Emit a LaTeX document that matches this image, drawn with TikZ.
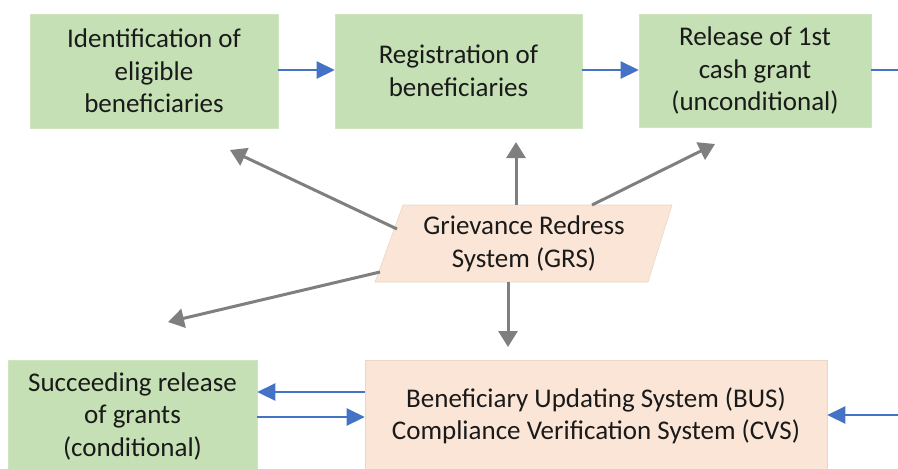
\documentclass[tikz,border=0pt]{standalone}
\usepackage{fontspec}
\setmainfont{Carlito}
\usetikzlibrary{arrows.meta}
\definecolor{boxgreen}{HTML}{C5E0B4}
\definecolor{boxpeach}{HTML}{FBE5D6}
\definecolor{flowblue}{HTML}{4472C4}
\definecolor{linkgray}{HTML}{7F7F7F}
\definecolor{txt}{HTML}{1A1A1A}
\tikzset{
  stagebox/.style={fill=boxgreen, draw=boxgreen!85!white, line width=0.6pt, text=txt, align=center,
    font=\fontsize{27}{32.5}\selectfont, inner sep=0pt},
  sysbox/.style={fill=boxpeach, draw=boxpeach!85!gray, line width=0.6pt, text=txt, align=center,
    font=\fontsize{27}{32.5}\selectfont, inner sep=0pt},
  flow/.style={draw=flowblue, line width=2.6pt, -{Triangle[length=18pt,width=17pt]}},
  flowline/.style={draw=flowblue, line width=2.6pt},
  link/.style={draw=linkgray, line width=3pt, -{Triangle[length=16pt,width=19pt]}},
}
\begin{document}
\begin{tikzpicture}[x=1pt,y=-1pt]
\useasboundingbox (0,0) rectangle (898,469);
\clip (0,0) rectangle (898,469);
% top row
\node[stagebox, minimum width=248pt, minimum height=114pt] (b1) at (154,71)
  {Identification of\\eligible\\beneficiaries};
\node[stagebox, minimum width=247pt, minimum height=114pt] (b2) at (458.5,71)
  {Registration of\\beneficiaries};
\node[stagebox, minimum width=232pt, minimum height=113pt] (b3) at (755,70.5)
  {Release of 1st\\cash grant\\(unconditional)};
% bottom row
\node[stagebox, minimum width=249pt, minimum height=112pt] (b4) at (132.5,416)
  {Succeeding release\\of grants\\(conditional)};
\node[sysbox, minimum width=462pt, minimum height=112pt] (bus) at (596,416)
  {Beneficiary Updating System (BUS)\\Compliance Verification System (CVS)};
% grievance parallelogram
\fill[boxpeach] (403,205) -- (672,205) -- (648,282) -- (375,282) -- cycle;
\draw[boxpeach!85!gray, line width=0.6pt] (403,205) -- (672,205) -- (648,282) -- (375,282) -- cycle;
\node[text=txt, align=center, font=\fontsize{27}{32.5}\selectfont, inner sep=0pt] (grs) at (524,244)
  {Grievance Redress\\System (GRS)};
% named coordinates for connector ends
\coordinate (gA) at (397,229);
\coordinate (tA) at (230,150);
\coordinate (gB) at (380,272);
\coordinate (tB) at (168,322);
\coordinate (gC) at (516,205);
\coordinate (tC) at (516,142);
\coordinate (gD) at (592,205);
\coordinate (tD) at (715,144);
\coordinate (gE) at (508,282);
\coordinate (tE) at (508,347);
\coordinate (outR) at (905,70);
\coordinate (inR) at (905,415);
% blue flow
\draw[flow] (b1.east |- 0,70) -- (b2.west |- 0,70);
\draw[flow] (b2.east |- 0,70) -- (b3.west |- 0,70);
\draw[flowline] (b3.east |- outR) -- (outR);
\draw[flow] (inR) -- (bus.east |- inR);
\draw[flow] (bus.west |- 0,392) -- (b4.east |- 0,392);
\draw[flow] (b4.east |- 0,417) -- (bus.west |- 0,417);
% gray links
\draw[link] (gA) -- (tA);
\draw[link] (gB) -- (tB);
\draw[link] (gC) -- (tC);
\draw[link] (gD) -- (tD);
\draw[link] (gE) -- (tE);
\end{tikzpicture}
\end{document}
